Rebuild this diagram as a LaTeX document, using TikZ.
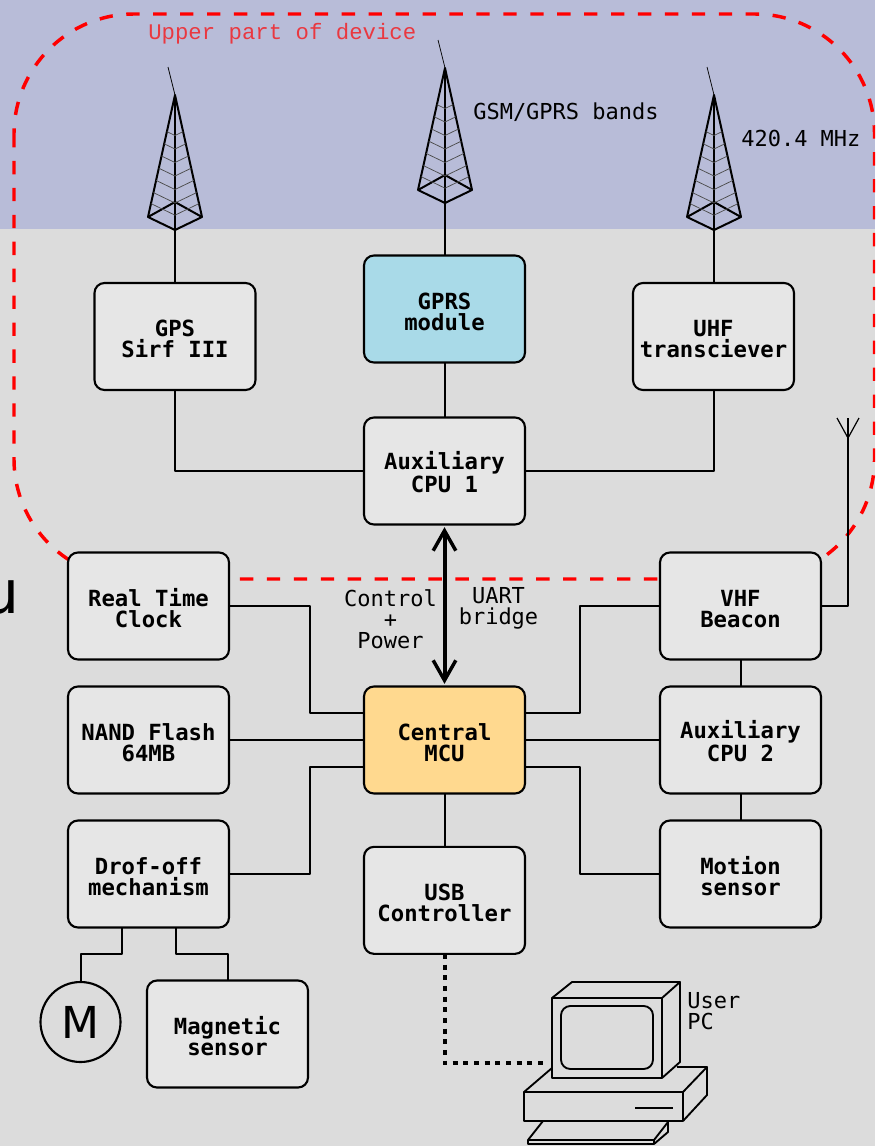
\documentclass[tikz,border=0pt]{standalone}
\usepackage{fontspec}
\setmainfont{DejaVu Sans}
\setmonofont{DejaVu Sans Mono}
\newfontfamily\thinmono{Liberation Mono}
\usetikzlibrary{arrows.meta,positioning}
\definecolor{sky-part}{HTML}{B8BCD8}
\definecolor{body-part}{HTML}{DCDCDC}
\definecolor{box-fill}{HTML}{E6E6E6}
\definecolor{gprs-fill}{HTML}{A9DAE8}
\definecolor{mcu-fill}{HTML}{FFD98F}
\definecolor{edge-red}{HTML}{FF0000}
\tikzset{
  unitbox/.style={
    rectangle, rounded corners=7.5pt,
    draw=black, line width=1.6pt, fill=box-fill,
    minimum width=120.75pt, minimum height=80.25pt,
    align=center, inner sep=0pt, outer sep=0pt,
    text height=36.5pt, text depth=5pt,
    font=\ttfamily\bfseries\fontsize{16.7}{15.75}\selectfont
  },
  wire/.style={draw=black, line width=1.5pt, line join=round},
  thinwire/.style={draw=black!70, line width=.55pt},
  pcline/.style={draw=black, line width=1.4pt, line join=round},
  bridge/.style={
    {Straight Barb[length=15pt,width=17pt,line width=2.6pt]}-{Straight Barb[length=15pt,width=17pt,line width=2.6pt]},
    line width=3pt, shorten >=2pt, shorten <=2pt
  },
  usblink/.style={draw=black, line width=3pt, dash pattern=on 3.8pt off 4.2pt},
  devicetag/.style={
    font=\ttfamily\fontsize{16.5}{15.75}\selectfont,
    align=center, inner sep=0pt
  },
  tower/.pic={
    \draw[wire] (-27,-13) -- (0,-135) -- (27,-13) -- (0,0) -- cycle;
    \draw[wire] (-27,-13) -- (0,-28) -- (27,-13);
    \draw[wire, line width=1.2pt] (0,-135) -- (0,0);
    \draw[thinwire, draw=black] (0,-135) -- (-7,-163);
    \foreach \f in {.11,.2,.3,.4,.5,.6,.7}
      \draw[thinwire] ({-27*(1-\f)},{-13-122*\f}) -- (0,{-135*\f}) -- ({27*(1-\f)},{-13-122*\f});
  }
}
\begin{document}
\begin{tikzpicture}[x=.75pt,y=-.75pt]
  \useasboundingbox (0,0) rectangle (875,1146);
  \clip (0,0) rectangle (875,1146);
  \fill[body-part] (0,0) rectangle (875,1146);
  \fill[sky-part] (0,0) rectangle (875,229);
  \node[anchor=base east, inner sep=0pt, font=\fontsize{45}{45}\selectfont] (cutoff) at (19.5,613) {u};

  \draw[edge-red, line width=2.6pt, rounded corners=90pt, dash pattern=on 10pt off 10.2pt]
    (14,14) rectangle (874.5,579);
  \node[anchor=base west, inner sep=0pt, text=edge-red, text opacity=.7,
        font=\thinmono\fontsize{16.75}{16.75}\selectfont] (upper) at (148,39) {Upper part of device};

  \node[unitbox, fill=mcu-fill] (mcu) at (444.5,740) {Central\\MCU};
  \node[unitbox, above=121.5pt of mcu] (aux1) {Auxiliary\\CPU 1};
  \node[unitbox, fill=gprs-fill, above=41.25pt of aux1] (gprs) {GPRS\\module};
  \node[unitbox] (gps) at (175,336.5) {GPS\\Sirf III};
  \node[unitbox] (uhf) at (713.5,336.5) {UHF\\transciever};
  \node[unitbox, left=101.25pt of mcu] (nand) {NAND Flash\\64MB};
  \node[unitbox, above=20.25pt of nand] (rtc) {Real Time\\Clock};
  \node[unitbox, below=20.25pt of nand] (drop) {Drof-off\\mechanism};
  \node[unitbox, right=101.25pt of mcu] (aux2) {Auxiliary\\CPU 2};
  \node[unitbox, above=20.25pt of aux2] (vhf) {VHF\\Beacon};
  \node[unitbox, below=20.25pt of aux2] (motion) {Motion\\sensor};
  \node[unitbox, below=40pt of mcu] (usb) {USB\\Controller};
  \node[unitbox] (mag) at (227.5,1034) {Magnetic\\sensor};
  \node[circle, draw=black, line width=1.6pt, minimum size=60pt, inner sep=0pt, outer sep=0pt,
        font=\fontsize{33}{33}\selectfont] (motor) at (80.5,1022) {M};

  \coordinate (gpsbase) at (175,230);
  \coordinate (gprsbase) at (445,203);
  \coordinate (uhfbase) at (714,230);
  \coordinate (vhftip) at (848,418);
  \coordinate (pcport) at (547,1063);

  \pic at (gpsbase) {tower};
  \pic at (gprsbase) {tower};
  \pic at (uhfbase) {tower};

  \draw[wire] (gpsbase) -- (gps.north -| gpsbase);
  \draw[wire] (gprsbase) -- (gprs.north -| gprsbase);
  \draw[wire] (uhfbase) -- (uhf.north -| uhfbase);
  \draw[wire] (gprs) -- (aux1);
  \draw[wire] (gps) |- (aux1);
  \draw[wire] (uhf) |- (aux1);

  \draw[bridge] (aux1) -- (mcu);

  \draw[wire] (rtc.east) -- ++(81,0) |- ([yshift=20.25pt]mcu.west);
  \draw[wire] (nand) -- (mcu);
  \draw[wire] (drop.east) -- ++(81,0) |- ([yshift=-20.25pt]mcu.west);
  \draw[wire] (vhf.west) -- ++(-80,0) |- ([yshift=20.25pt]mcu.east);
  \draw[wire] (aux2) -- (mcu);
  \draw[wire] (motion.west) -- ++(-80,0) |- ([yshift=-20.25pt]mcu.east);
  \draw[wire] (vhf) -- (aux2);
  \draw[wire] (aux2) -- (motion);
  \draw[wire] (mcu) -- (usb);
  \draw[wire] (vhf.east) -| (vhftip);
  \draw[thinwire, draw=black, line width=.9pt] (837,418) -- (848,438) -- (859,418);

  \draw[wire] ([xshift=-20.25pt]drop.south) |- (100,954) -| (motor.north);
  \draw[wire] ([xshift=20.25pt]drop.south) |- (227.5,954) -- (mag.north);

  \draw[usblink] (usb.south) |- (pcport);

  \draw[pcline] (552,998) rectangle (662,1078);
  \draw[pcline] (552,998) -- (572,982) -- (680,982) -- (662,998);
  \draw[pcline] (680,982) -- (680,1062) -- (662,1078);
  \draw[pcline, rounded corners=7pt] (561,1006) rectangle (653,1069);
  \draw[pcline] (524,1092) rectangle (683,1121);
  \draw[pcline] (524,1092) -- (552,1068);
  \draw[pcline] (677,1067) -- (707,1067) -- (683,1092);
  \draw[pcline] (707,1067) -- (707,1095) -- (683,1121);
  \draw[wire] (635,1108) -- (673,1108);
  \draw[pcline] (543,1121) -- (528,1140) -- (528,1144) -- (654,1144) -- (654,1140) -- (668,1122);
  \draw[pcline] (528,1140) -- (654,1140);
  \draw[pcline] (668,1122) -- (668,1132) -- (654,1144);

  \node[devicetag, anchor=base west] (gsmtag) at (473,119) {GSM/GPRS bands};
  \node[devicetag, anchor=base west] (mhztag) at (741,146) {420.4 MHz};
  \node[devicetag] (ctrltag) at (390.5,619) {Control\\+\\Power};
  \node[devicetag] (uarttag) at (498.5,608.5) {UART\\bridge};
  \node[devicetag, anchor=west, align=left] (pctag) at (687,1011) {User\\PC};
\end{tikzpicture}
\end{document}
